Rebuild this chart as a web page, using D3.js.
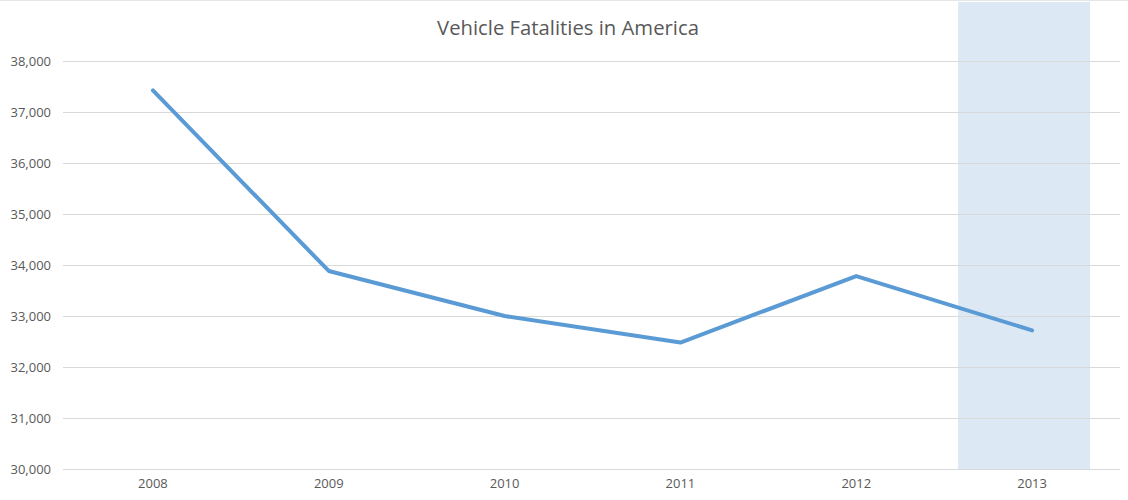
<!DOCTYPE html>
<html><head><meta charset="utf-8">
<script src="https://cdn.jsdelivr.net/npm/d3@7"></script>
<style>body{margin:0;background:#fff}svg{display:block}</style>
</head><body><svg id="c" width="1128" height="500"></svg>
<script>
const years = ["2008","2009","2010","2011","2012","2013"];
const fatalities = [37423, 33883, 32999, 32479, 33782, 32719];
const yTicks = [30000,31000,32000,33000,34000,35000,36000,37000,38000];
const highlightYears = ["2013"];
const title = "Vehicle Fatalities in America";

const svg = d3.select("#c");
const W = 1128, H = 500;
const m = {left: 65, right: 8, top: 61, bottom: 31};
const x = d3.scaleBand().domain(years).range([m.left, W - m.right]).padding(0);
const y = d3.scaleLinear().domain([30000, 38000]).range([H - m.bottom, m.top]);

// top border
svg.append("line").attr("x1",0).attr("x2",W).attr("y1",0.5).attr("y2",0.5).attr("stroke","#e6e6e6");

// highlight band
const hb = d3.scaleBand().domain(years).range([m.left - 8, W - m.right - 8]).paddingInner(0.25).paddingOuter(0.125);
svg.selectAll("rect.hl").data(highlightYears).enter().append("rect")
  .attr("class","hl")
  .attr("x", d => hb(d)).attr("width", hb.bandwidth())
  .attr("y", 2).attr("height", y(30000) - 2)
  .attr("fill", "#dce8f4");

// gridlines
const gx0 = 63, gx1 = 1120;
svg.selectAll("line.grid").data(yTicks).enter().append("line")
  .attr("class","grid")
  .attr("x1", gx0).attr("x2", gx1)
  .attr("y1", d => Math.round(y(d)) + 0.5).attr("y2", d => Math.round(y(d)) + 0.5)
  .attr("stroke", "#d9d9d9").attr("stroke-width", 1);

// y axis labels
const yAxis = d3.axisLeft(y).tickValues(yTicks).tickFormat(d3.format(",")).tickSize(0).tickPadding(0);
const ya = svg.append("g").attr("transform", "translate(51,0)").call(yAxis);
ya.select(".domain").remove();
ya.selectAll("text").attr("fill","#595959").style("font-family","'Open Sans', 'Noto Sans', sans-serif").style("font-size","13px");

// x axis labels
const xAxis = d3.axisBottom(x).tickSize(0).tickPadding(0);
const xa = svg.append("g").attr("transform", `translate(0,${H - m.bottom + 10})`).call(xAxis);
xa.select(".domain").remove();
xa.selectAll("text").attr("fill","#595959").style("font-family","'Open Sans', 'Noto Sans', sans-serif").style("font-size","13px");

// line
const line = d3.line().x((d,i) => x(years[i]) + x.bandwidth()/2).y(d => y(d));
svg.append("path").datum(fatalities)
  .attr("d", line).attr("fill","none")
  .attr("stroke","#5b9bd5").attr("stroke-width",4)
  .attr("stroke-linejoin","round").attr("stroke-linecap","round");

// title
svg.append("text").attr("x", 568).attr("y", 35).attr("text-anchor","middle")
  .attr("fill","#595959").style("font-family","'Open Sans', 'Noto Sans', sans-serif").style("font-size","20.3px")
  .text(title);
</script></body></html>
